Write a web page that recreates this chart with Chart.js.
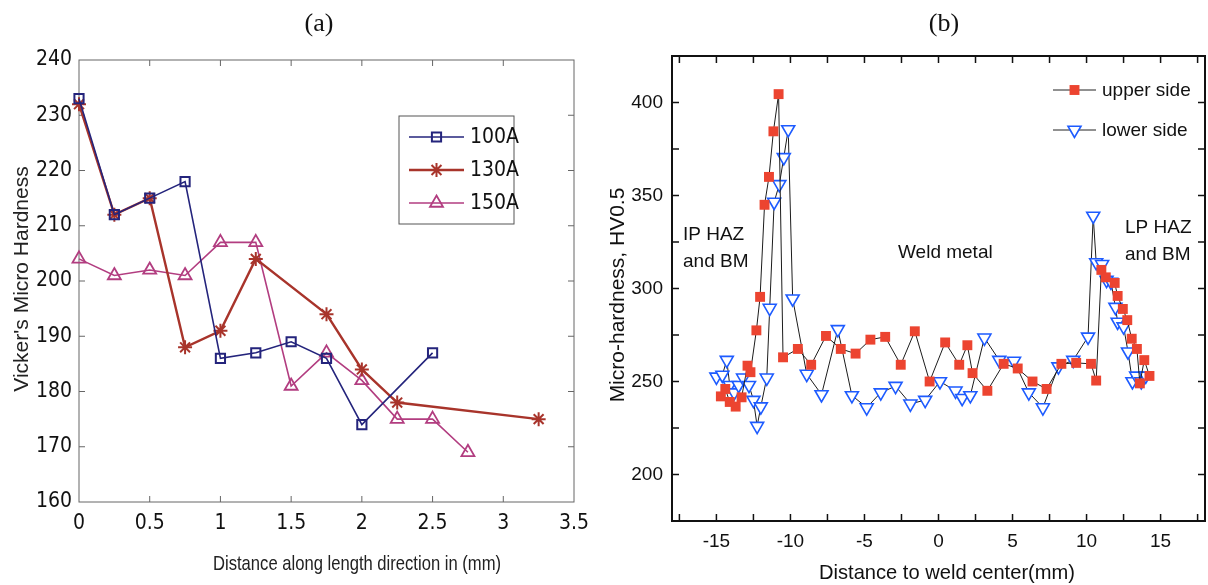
<!DOCTYPE html>
<html>
<head>
<meta charset="utf-8">
<script src="https://cdn.jsdelivr.net/npm/chart.js@4.4.0/dist/chart.umd.min.js"></script>
<style>
  html, body { margin: 0; padding: 0; background: #fff; overflow: hidden; }
  #wrap { position: relative; width: 1208px; height: 585px; }
  canvas { position: absolute; top: 0; }
  #chartA { left: 0; }
  #chartB { left: 600px; }
</style>
</head>
<body>
<div id="wrap">
  <canvas id="chartA" width="600" height="585"></canvas>
  <canvas id="chartB" width="608" height="585"></canvas>
</div>
<script>
// ---- (a) Vicker's hardness along the length ----
const x100 = [0, 0.25, 0.5, 0.75, 1, 1.25, 1.5, 1.75, 2, 2.5];
const hv100 = [233, 212, 215, 218, 186, 187, 189, 186, 174, 187];
const x130 = [0, 0.25, 0.5, 0.75, 1, 1.25, 1.75, 2, 2.25, 3.25];
const hv130 = [232, 212, 215, 188, 191, 204, 194, 184, 178, 175];
const x150 = [0, 0.25, 0.5, 0.75, 1, 1.25, 1.5, 1.75, 2, 2.25, 2.5, 2.75];
const hv150 = [204, 201, 202, 201, 207, 207, 181, 187, 182, 175, 175, 169];
const xTicksA = [0, 0.5, 1, 1.5, 2, 2.5, 3, 3.5];
const yTicksA = [160, 170, 180, 190, 200, 210, 220, 230, 240];

// ---- (b) micro-hardness across the weld ----
const xUpper = [-14.7, -14.4, -14.1, -13.7, -13.3, -12.9, -12.7, -12.3, -12.05, -11.75, -11.45, -11.15, -10.8,
  -10.5, -9.5, -8.6, -7.6, -6.6, -5.6, -4.6, -3.6, -2.55, -1.6, -0.6, 0.45, 1.4, 1.95, 2.3, 3.3, 4.4, 5.35,
  6.35, 7.3, 8.3, 9.3, 10.3, 10.65, 11.0, 11.3, 11.9, 12.1, 12.45, 12.75, 13.05, 13.4, 13.6, 13.9, 14.25];
const hvUpper = [242, 246, 239, 236.5, 241.5, 258.5, 255, 277.5, 295.5, 345, 360, 384.5, 404.5,
  263, 267.5, 259, 274.5, 267.5, 265, 272.5, 274, 259, 277, 250, 271, 259, 269.5, 254.5, 245, 259.5, 257,
  250, 246, 259.5, 260, 259.5, 250.5, 310, 306, 303, 296, 289, 283, 273, 267.5, 249, 261.5, 253];
const xLower = [-15.0, -14.6, -14.3, -14.1, -13.8, -13.5, -13.2, -12.8, -12.5, -12.25, -12.0, -11.6, -11.4,
  -11.1, -10.75, -10.45, -10.15, -9.85, -8.9, -7.9, -6.8, -5.85, -4.85, -3.9, -2.9, -1.9, -0.9, 0.1, 1.15,
  1.6, 2.15, 3.1, 4.1, 5.1, 6.1, 7.05, 8.1, 9.1, 10.1, 10.45, 10.65, 11.05, 11.35, 11.65, 11.95, 12.1, 12.5,
  12.8, 13.1, 13.35, 13.7, 14.0];
const hvLower = [252.5, 253.5, 261.5, 248, 244, 248, 252, 248, 240, 226, 236.5, 252, 289.5,
  346.5, 356, 370.5, 385.5, 294.5, 254, 243, 278, 242.5, 236, 244, 247.5, 238, 240, 250, 245,
  241, 242.5, 273.5, 261.5, 261, 244, 236, 258, 261.5, 274, 339, 314, 313, 304.5, 303.5, 290, 282, 279.5,
  266, 250, 253, 250, 253];
const xTicksB = [-15, -10, -5, 0, 5, 10, 15];
const xMinorB = [-17.5, -12.5, -7.5, -2.5, 2.5, 7.5, 12.5, 17.5];
const yTicksB = [200, 250, 300, 350, 400];
const yMinorB = [225, 275, 325, 375];

const NARROW = '"Liberation Sans Narrow", "Arial Narrow", "DejaVu Sans Condensed", sans-serif';
const SANS = '"Liberation Sans", Arial, sans-serif';
const SERIF = '"Liberation Serif", "Times New Roman", serif';

const pts = (xs, ys) => xs.map((x, i) => ({x: x, y: ys[i]}));

// box, inward tick marks, legend and free text
const framePlugin = {
  id: 'frame',
  beforeDatasetsDraw(chart, args, o) {
    const {ctx, chartArea: a} = chart;
    const sx = chart.scales.x, sy = chart.scales.y;
    ctx.save();
    ctx.strokeStyle = o.color;
    ctx.lineWidth = o.tickWidth;
    ctx.beginPath();
    o.xMarks.forEach(v => {
      const px = sx.getPixelForValue(v);
      ctx.moveTo(px, a.bottom); ctx.lineTo(px, a.bottom - o.tickLen);
      ctx.moveTo(px, a.top); ctx.lineTo(px, a.top + o.tickLen);
    });
    o.yMarks.forEach(v => {
      const py = sy.getPixelForValue(v);
      ctx.moveTo(a.left, py); ctx.lineTo(a.left + o.tickLen, py);
      ctx.moveTo(a.right, py); ctx.lineTo(a.right - o.tickLen, py);
    });
    ctx.stroke();
    ctx.lineWidth = o.lineWidth;
    ctx.strokeRect(a.left, a.top, a.right - a.left, a.bottom - a.top);
    ctx.restore();
  },
  afterDraw(chart, args, o) {
    const ctx = chart.ctx;
    const lg = o.legend;
    ctx.save();
    if (lg.box) {
      const b = lg.box;
      ctx.fillStyle = '#fff';
      ctx.fillRect(b[0], b[1], b[2] - b[0], b[3] - b[1]);
      ctx.strokeStyle = lg.boxColor;
      ctx.lineWidth = 1;
      ctx.strokeRect(b[0], b[1], b[2] - b[0], b[3] - b[1]);
    }
    chart.data.datasets.forEach((ds, i) => {
      const y = lg.rows[i];
      ctx.strokeStyle = lg.lineColor || ds.borderColor;
      ctx.lineWidth = ds.borderWidth;
      ctx.beginPath();
      ctx.moveTo(lg.x0, y); ctx.lineTo(lg.x1, y);
      ctx.stroke();
      ctx.strokeStyle = ds.pointBorderColor;
      ctx.fillStyle = ds.pointBackgroundColor;
      ctx.lineWidth = ds.pointBorderWidth;
      Chart.helpers.drawPoint(ctx, {
        pointStyle: ds.pointStyle, radius: ds.pointRadius,
        rotation: ds.pointRotation || 0, borderWidth: ds.pointBorderWidth
      }, (lg.x0 + lg.x1) / 2, y);
      ctx.fillStyle = lg.textColor;
      ctx.font = lg.font;
      ctx.textAlign = 'left';
      ctx.textBaseline = 'middle';
      ctx.fillText(ds.label, lg.textX, y + 1);
    });
    o.texts.forEach(t => {
      ctx.save();
      ctx.font = t.font;
      ctx.fillStyle = t.color || '#111';
      ctx.textAlign = t.align || 'left';
      ctx.textBaseline = t.baseline || 'alphabetic';
      ctx.translate(t.x, t.y);
      if (t.rotate) ctx.rotate(-Math.PI / 2);
      if (t.maxWidth) ctx.fillText(t.text, 0, 0, t.maxWidth);
      else ctx.fillText(t.text, 0, 0);
      ctx.restore();
    });
    ctx.restore();
  }
};

// ---------- chart (a) ----------
const colA = {c100: '#24247c', c130: '#a8342b', c150: '#b23d80'};
new Chart(document.getElementById('chartA'), {
  type: 'scatter',
  data: {
    datasets: [{
      label: '100A', data: pts(x100, hv100), showLine: true,
      borderColor: colA.c100, borderWidth: 1.6,
      pointStyle: 'rect', pointRadius: 6.5, pointBorderWidth: 2,
      pointBorderColor: colA.c100, pointBackgroundColor: 'rgba(0,0,0,0)', clip: false
    }, {
      label: '130A', data: pts(x130, hv130), showLine: true,
      borderColor: colA.c130, borderWidth: 2.4,
      pointStyle: 'star', pointRadius: 7, pointBorderWidth: 2,
      pointBorderColor: colA.c130, pointBackgroundColor: 'rgba(0,0,0,0)', clip: false
    }, {
      label: '150A', data: pts(x150, hv150), showLine: true,
      borderColor: colA.c150, borderWidth: 1.6,
      pointStyle: 'triangle', pointRadius: 7.5, pointBorderWidth: 1.8,
      pointBorderColor: colA.c150, pointBackgroundColor: 'rgba(0,0,0,0)', clip: false
    }]
  },
  options: {
    responsive: false,
    animation: false,
    events: [],
    layout: {autoPadding: false, padding: {left: 0, right: 26, top: 60, bottom: 0}},
    plugins: {
      legend: {display: false},
      tooltip: {enabled: false},
      frame: {
        color: '#666', tickWidth: 1, tickLen: 6, lineWidth: 1,
        xMarks: xTicksA.slice(1, -1), yMarks: yTicksA.slice(1, -1),
        legend: {
          box: [399, 116, 514, 224], boxColor: '#555',
          x0: 409, x1: 464, textX: 470, rows: [137, 170, 203],
          font: '21px ' + NARROW, textColor: '#111'
        },
        texts: [
          {text: '(a)', x: 319, y: 24, align: 'center', baseline: 'middle', font: '26px ' + SERIF},
          {text: "Vicker's Micro Hardness", x: 22, y: 279, rotate: true, align: 'center',
            baseline: 'middle', font: '21px ' + SANS, color: '#222', maxWidth: 247},
          {text: 'Distance along length direction in (mm)', x: 357, y: 564, align: 'center',
            baseline: 'middle', font: '21px ' + SANS, color: '#222', maxWidth: 288}
        ]
      }
    },
    scales: {
      x: {
        type: 'linear', min: 0, max: 3.5,
        afterBuildTicks: s => { s.ticks = xTicksA.map(v => ({value: v})); },
        afterFit: s => { s.height = 83; s.paddingLeft = 0; s.paddingRight = 0; },
        grid: {display: false, drawTicks: false},
        border: {display: false},
        ticks: {padding: 9, color: '#111', font: {family: NARROW, size: 21}, maxRotation: 0,
          callback: v => String(v)}
      },
      y: {
        type: 'linear', min: 160, max: 240,
        afterBuildTicks: s => { s.ticks = yTicksA.map(v => ({value: v})); },
        afterFit: s => { s.width = 79; },
        grid: {display: false, drawTicks: false},
        border: {display: false},
        ticks: {padding: 7, color: '#111', font: {family: NARROW, size: 21}}
      }
    }
  },
  plugins: [framePlugin]
});

// ---------- chart (b) ----------
new Chart(document.getElementById('chartB'), {
  type: 'scatter',
  data: {
    datasets: [{
      label: 'upper side', data: pts(xUpper, hvUpper), showLine: true,
      borderColor: '#1c1c1c', borderWidth: 1,
      pointStyle: 'rect', pointRadius: 7, pointBorderWidth: 0,
      pointBorderColor: '#ec4430', pointBackgroundColor: '#ec4430', clip: false
    }, {
      label: 'lower side', data: pts(xLower, hvLower), showLine: true,
      borderColor: '#1c1c1c', borderWidth: 1,
      pointStyle: 'triangle', pointRotation: 180, pointRadius: 7.5, pointBorderWidth: 1.6,
      pointBorderColor: '#1d5bff', pointBackgroundColor: '#ffffff', clip: false
    }]
  },
  options: {
    responsive: false,
    animation: false,
    events: [],
    layout: {autoPadding: false, padding: {left: 0, right: 3, top: 56, bottom: 0}},
    plugins: {
      legend: {display: false},
      tooltip: {enabled: false},
      frame: {
        color: '#111', tickWidth: 1.5, tickLen: 7, lineWidth: 2,
        xMarks: xTicksB.concat(xMinorB), yMarks: yTicksB.concat(yMinorB),
        legend: {
          box: null, lineColor: '#222',
          x0: 453, x1: 496, textX: 502, rows: [90, 130],
          font: '19px ' + SANS, textColor: '#111'
        },
        texts: [
          {text: '(b)', x: 344, y: 24, align: 'center', baseline: 'middle', font: '26px ' + SERIF},
          {text: 'Micro-hardness, HV0.5', x: 18, y: 295, rotate: true, align: 'center',
            baseline: 'middle', font: '21px ' + SANS, color: '#111', maxWidth: 236},
          {text: 'Distance to weld center(mm)', x: 347, y: 573, align: 'center',
            baseline: 'middle', font: '21px ' + SANS, color: '#111', maxWidth: 256},
          {text: 'IP HAZ', x: 83, y: 240, font: '19px ' + SANS},
          {text: 'and BM', x: 83, y: 267, font: '19px ' + SANS},
          {text: 'Weld metal', x: 298, y: 258, font: '19px ' + SANS},
          {text: 'LP HAZ', x: 525, y: 233, font: '19px ' + SANS},
          {text: 'and BM', x: 525, y: 260, font: '19px ' + SANS}
        ]
      }
    },
    scales: {
      x: {
        type: 'linear', min: -18, max: 18,
        afterBuildTicks: s => { s.ticks = xTicksB.map(v => ({value: v})); },
        afterFit: s => { s.height = 64; s.paddingLeft = 0; s.paddingRight = 0; },
        grid: {display: false, drawTicks: false},
        border: {display: false},
        ticks: {padding: 9, color: '#111', font: {family: SANS, size: 19}, maxRotation: 0}
      },
      y: {
        type: 'linear', min: 175, max: 425,
        afterBuildTicks: s => { s.ticks = yTicksB.map(v => ({value: v})); },
        afterFit: s => { s.width = 72; },
        grid: {display: false, drawTicks: false},
        border: {display: false},
        ticks: {padding: 9, color: '#111', font: {family: SANS, size: 19}}
      }
    }
  },
  plugins: [framePlugin]
});
</script>
</body>
</html>
